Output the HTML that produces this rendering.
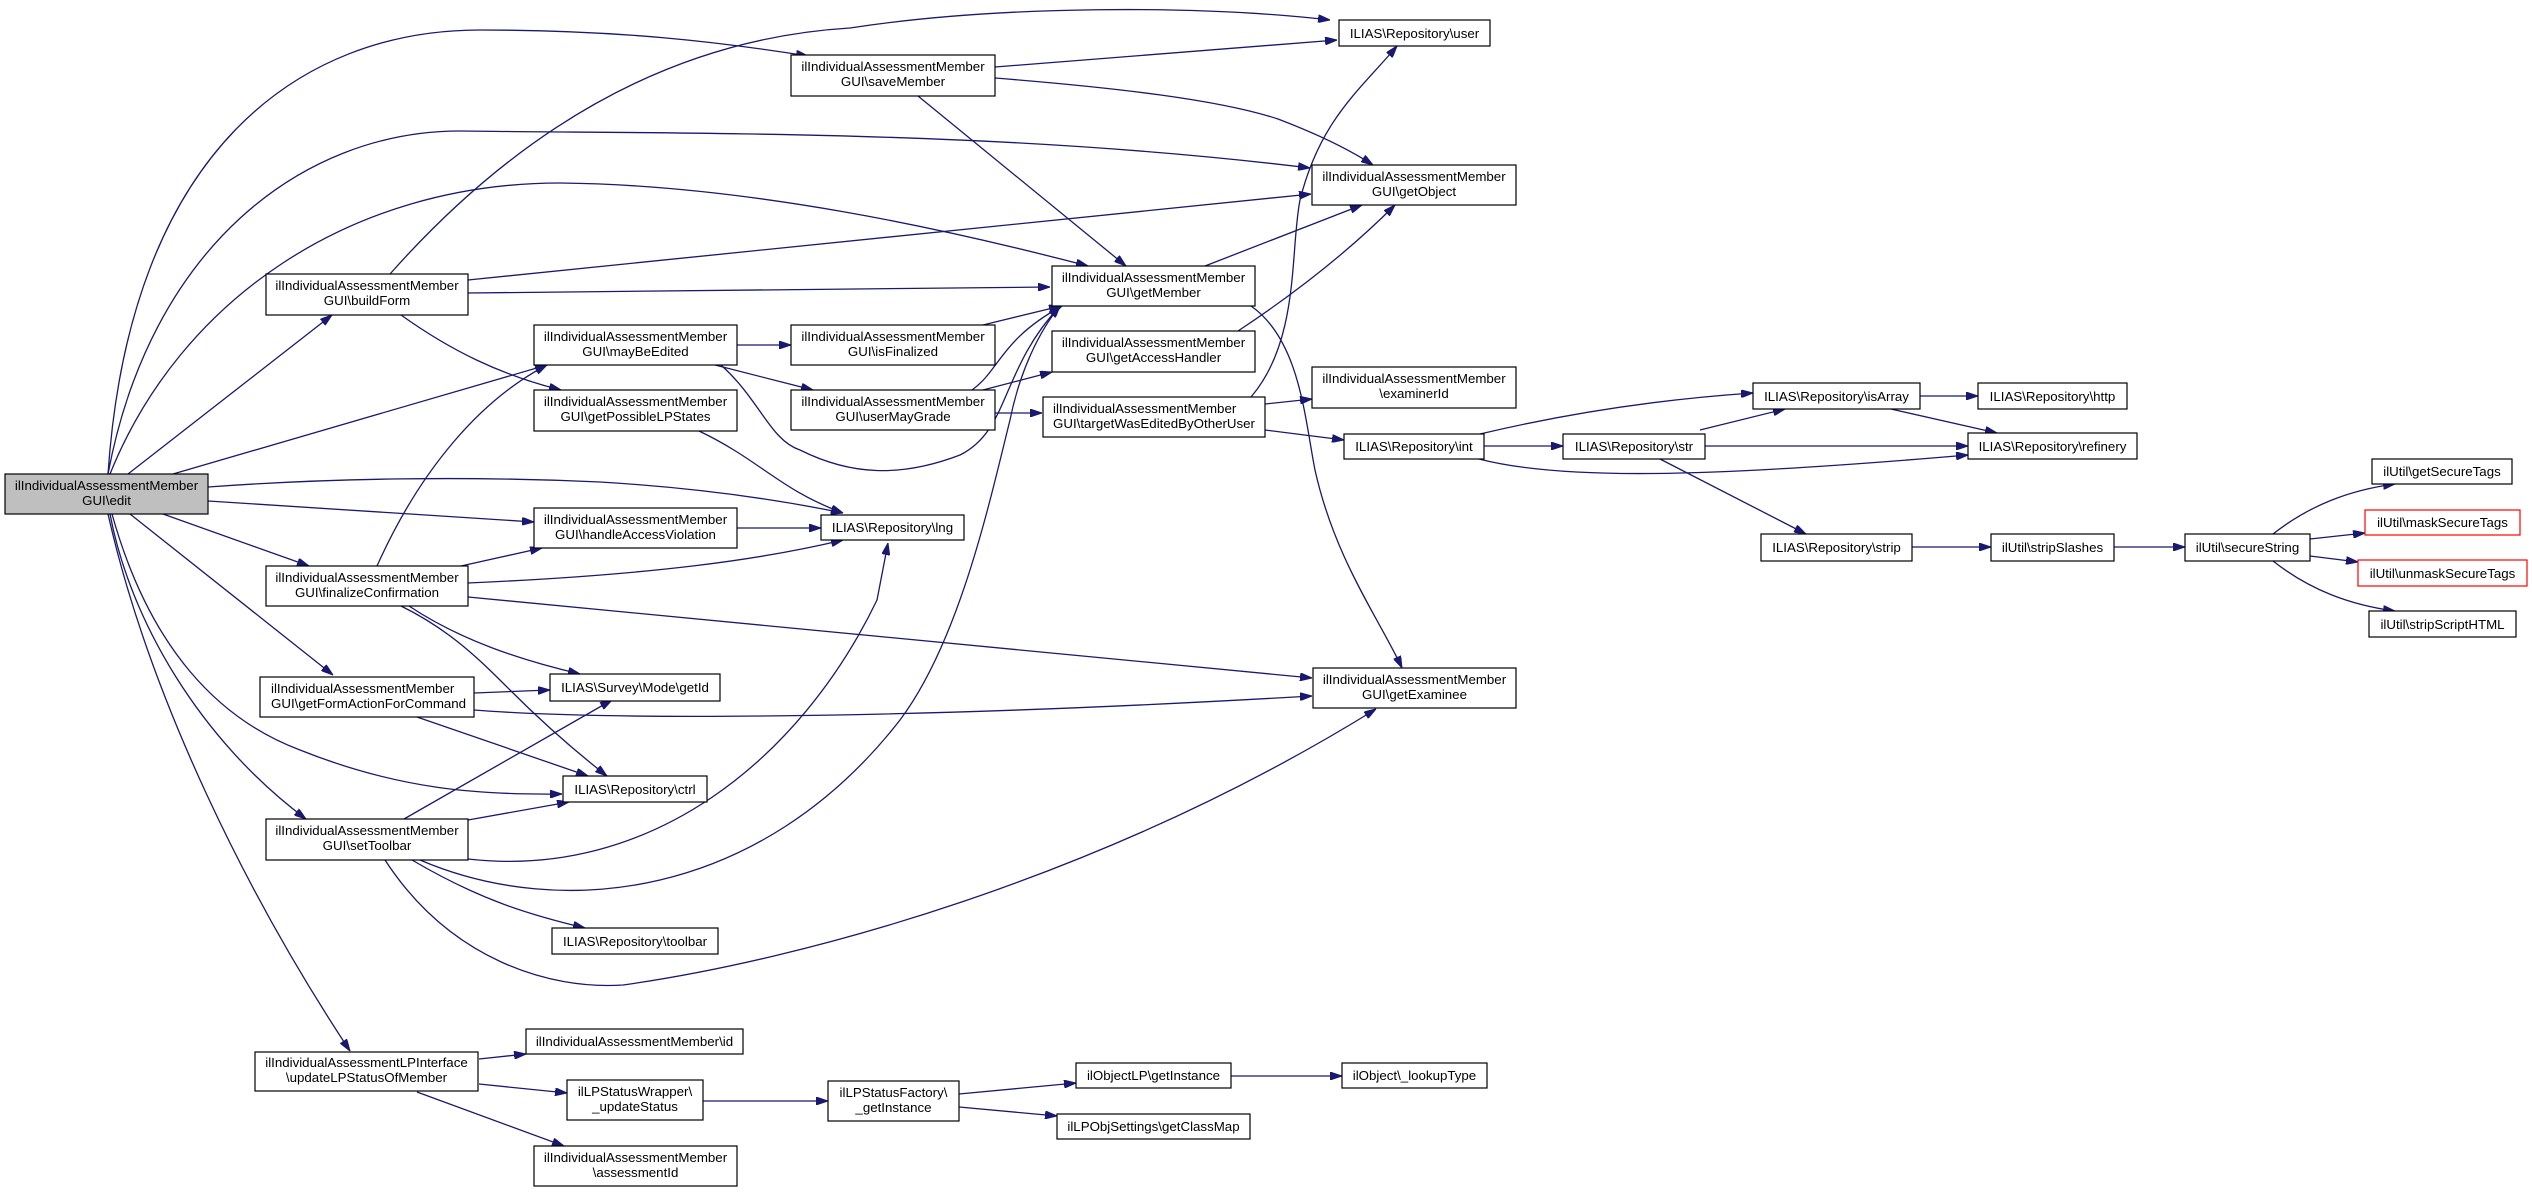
<!DOCTYPE html>
<html><head><meta charset="utf-8"><style>
html,body{margin:0;padding:0;background:#fff;}
svg{display:block;}
text{font-family:"Liberation Sans",Arial,sans-serif;font-size:13.3px;fill:#000;}
.n{fill:#fff;stroke:#000;stroke-width:1.2;}
.e{fill:none;stroke:#191970;stroke-width:1.3;}
</style></head><body>
<svg width="2532" height="1192" viewBox="0 0 2532 1192" xmlns="http://www.w3.org/2000/svg">
<defs>
<marker id="a" viewBox="0 0 12 8" refX="12" refY="4" markerWidth="12" markerHeight="8" markerUnits="userSpaceOnUse" orient="auto">
<path d="M0,0 L12,4 L0,8 z" fill="#191970" stroke="#191970"/>
</marker>
</defs>
<g class="e" marker-end="url(#a)">
<!-- edit -->
<path d="M108,474 C130,150 300,30 480,30 C620,30 720,42 808,56"/>
<path d="M108,474 C150,250 300,131 460,131 C700,134 1000,130 1310,168"/>
<path d="M110,474 C180,300 350,183 560,183 C750,185 950,230 1088,266"/>
<path d="M128,474 L332,315"/>
<path d="M173,474 L547,365"/>
<path d="M208,487 C330,478 470,476 600,482 C700,488 780,500 843,513"/>
<path d="M208,501 L534,522"/>
<path d="M163,514 L309,566"/>
<path d="M130,514 L333,675"/>
<path d="M112,514 C150,650 220,720 300,750 C400,790 480,795 562,794"/>
<path d="M110,514 C130,620 200,740 306,819"/>
<path d="M108,514 C150,700 250,900 350,1051"/>
<!-- buildForm -->
<path d="M390,274 C500,150 650,40 850,28 C1000,5 1200,5 1330,20"/>
<path d="M468,280 L1311,194"/>
<path d="M468,293 L1050,287"/>
<path d="M401,315 C450,350 500,375 561,390"/>
<!-- saveMember -->
<path d="M995,67 L1337,40"/>
<path d="M995,78 C1120,88 1220,100 1278,119 C1320,135 1350,150 1373,165"/>
<path d="M918,96 L1126,266"/>
<!-- mayBeEdited -->
<path d="M737,345 L791,345"/>
<path d="M715,365 L813,390"/>
<path d="M721,365 C760,400 770,440 800,450 C850,475 900,478 960,455 C1010,430 1000,370 1060,306"/>
<path d="M983,325 L1061,306"/>
<path d="M972,390 C1000,370 1000,340 1062,306"/>
<path d="M983,390 L1052,372"/>
<path d="M995,413 L1042,413"/>
<path d="M699,431 C760,460 780,490 843,513"/>
<path d="M737,528 L821,528"/>
<!-- finalizeConfirmation -->
<path d="M377,566 C420,470 480,400 547,365"/>
<path d="M461,566 L542,548"/>
<path d="M468,583 C650,575 760,560 843,540"/>
<path d="M468,597 L1312,678"/>
<path d="M409,606 C460,640 520,660 580,674"/>
<path d="M401,606 C450,630 480,660 510,690 C550,730 580,755 607,776"/>
<!-- setToolbar -->
<path d="M468,859 C650,880 800,760 877,600 L888,543"/>
<path d="M420,860 C560,920 760,900 900,720 C960,640 990,500 1010,420 C1020,370 1040,330 1060,306"/>
<path d="M385,860 C450,960 550,990 623,985 C800,960 1100,880 1376,709"/>
<path d="M404,819 L612,700"/>
<path d="M468,820 L569,802"/>
<path d="M412,860 C480,900 530,915 585,928"/>
<!-- getFormActionForCommand -->
<path d="M474,693 L550,690"/>
<path d="M417,717 L588,776"/>
<path d="M474,710 C600,720 900,720 1312,696"/>
<!-- getMember etc -->
<path d="M1205,266 L1362,205"/>
<path d="M1251,306 C1300,340 1305,420 1315,470 C1335,560 1380,620 1402,668"/>
<path d="M1238,331 C1300,290 1350,250 1395,205"/>
<path d="M1251,397 C1300,340 1290,250 1300,200 C1320,120 1360,90 1397,46"/>
<path d="M1265,404 L1312,399"/>
<path d="M1265,430 L1344,440"/>
<!-- int / str -->
<path d="M1480,434 C1560,415 1650,400 1753,393"/>
<path d="M1484,446 L1563,446"/>
<path d="M1479,459 C1560,480 1700,478 1968,455"/>
<path d="M1700,430 L1785,409"/>
<path d="M1705,446 L1968,446"/>
<path d="M1660,459 L1806,534"/>
<path d="M1920,396 L1978,396"/>
<path d="M1891,409 L1997,433"/>
<path d="M1912,547 L1991,547"/>
<path d="M2114,547 L2185,547"/>
<path d="M2273,534 C2310,505 2350,490 2395,484"/>
<path d="M2310,539 L2365,533"/>
<path d="M2310,556 L2358,562"/>
<path d="M2273,561 C2310,590 2350,605 2395,611"/>
<!-- updateLP -->
<path d="M479,1059 L526,1054"/>
<path d="M479,1084 L567,1093"/>
<path d="M417,1092 L564,1146"/>
<path d="M703,1101 L828,1101"/>
<path d="M959,1094 L1076,1083"/>
<path d="M959,1107 L1057,1116"/>
<path d="M1231,1076 L1342,1076"/>
</g>

<!-- nodes -->
<rect x="5" y="474" width="203" height="40" fill="#bfbfbf" stroke="#000" stroke-width="1.2"/>
<text x="106.5" y="490" text-anchor="middle">ilIndividualAssessmentMember</text><text x="106.5" y="505" text-anchor="middle">GUI\edit</text>

<g>
<rect class="n" x="791" y="55" width="204" height="41"/>
<text x="893" y="71" text-anchor="middle">ilIndividualAssessmentMember</text><text x="893" y="86" text-anchor="middle">GUI\saveMember</text>
<rect class="n" x="1339" y="20" width="151" height="26"/>
<text x="1414.5" y="38" text-anchor="middle">ILIAS\Repository\user</text>
<rect class="n" x="1312" y="165" width="204" height="40"/>
<text x="1414" y="181" text-anchor="middle">ilIndividualAssessmentMember</text><text x="1414" y="196" text-anchor="middle">GUI\getObject</text>
<rect class="n" x="266" y="274" width="202" height="41"/>
<text x="367" y="290" text-anchor="middle">ilIndividualAssessmentMember</text><text x="367" y="305" text-anchor="middle">GUI\buildForm</text>
<rect class="n" x="1052" y="266" width="203" height="40"/>
<text x="1153.5" y="282" text-anchor="middle">ilIndividualAssessmentMember</text><text x="1153.5" y="297" text-anchor="middle">GUI\getMember</text>
<rect class="n" x="534" y="325" width="203" height="40"/>
<text x="635.5" y="341" text-anchor="middle">ilIndividualAssessmentMember</text><text x="635.5" y="356" text-anchor="middle">GUI\mayBeEdited</text>
<rect class="n" x="791" y="325" width="204" height="40"/>
<text x="893" y="341" text-anchor="middle">ilIndividualAssessmentMember</text><text x="893" y="356" text-anchor="middle">GUI\isFinalized</text>
<rect class="n" x="1052" y="331" width="203" height="41"/>
<text x="1153.5" y="347" text-anchor="middle">ilIndividualAssessmentMember</text><text x="1153.5" y="362" text-anchor="middle">GUI\getAccessHandler</text>
<rect class="n" x="534" y="390" width="203" height="41"/>
<text x="635.5" y="406" text-anchor="middle">ilIndividualAssessmentMember</text><text x="635.5" y="421" text-anchor="middle">GUI\getPossibleLPStates</text>
<rect class="n" x="791" y="390" width="204" height="40"/>
<text x="893" y="406" text-anchor="middle">ilIndividualAssessmentMember</text><text x="893" y="421" text-anchor="middle">GUI\userMayGrade</text>
<rect class="n" x="1043" y="397" width="222" height="40"/>
<text x="1053" y="413">ilIndividualAssessmentMember</text><text x="1053" y="428">GUI\targetWasEditedByOtherUser</text>
<rect class="n" x="1312" y="367" width="204" height="41"/>
<text x="1414" y="383" text-anchor="middle">ilIndividualAssessmentMember</text><text x="1414" y="398" text-anchor="middle">\examinerId</text>
<rect class="n" x="1344" y="434" width="140" height="25"/>
<text x="1414" y="451" text-anchor="middle">ILIAS\Repository\int</text>
<rect class="n" x="1563" y="434" width="142" height="25"/>
<text x="1634" y="451" text-anchor="middle">ILIAS\Repository\str</text>
<rect class="n" x="1753" y="383" width="167" height="26"/>
<text x="1836.5" y="401" text-anchor="middle">ILIAS\Repository\isArray</text>
<rect class="n" x="1978" y="383" width="149" height="26"/>
<text x="2052.5" y="401" text-anchor="middle">ILIAS\Repository\http</text>
<rect class="n" x="1968" y="433" width="169" height="26"/>
<text x="2052.5" y="451" text-anchor="middle">ILIAS\Repository\refinery</text>
<rect class="n" x="1761" y="534" width="151" height="27"/>
<text x="1836.5" y="552" text-anchor="middle">ILIAS\Repository\strip</text>
<rect class="n" x="1991" y="534" width="123" height="27"/>
<text x="2052.5" y="552" text-anchor="middle">ilUtil\stripSlashes</text>
<rect class="n" x="2185" y="534" width="125" height="27"/>
<text x="2247.5" y="552" text-anchor="middle">ilUtil\secureString</text>
<rect class="n" x="2372" y="459" width="140" height="25"/>
<text x="2442" y="476" text-anchor="middle">ilUtil\getSecureTags</text>
<rect x="2365" y="510" width="155" height="25" fill="#fff" stroke="#ff0000" stroke-width="1.2"/>
<text x="2442.5" y="527" text-anchor="middle">ilUtil\maskSecureTags</text>
<rect x="2358" y="560" width="169" height="26" fill="#fff" stroke="#ff0000" stroke-width="1.2"/>
<text x="2442.5" y="578" text-anchor="middle">ilUtil\unmaskSecureTags</text>
<rect class="n" x="2369" y="611" width="147" height="26"/>
<text x="2442.5" y="629" text-anchor="middle">ilUtil\stripScriptHTML</text>
<rect class="n" x="821" y="515" width="143" height="25"/>
<text x="892.5" y="532" text-anchor="middle">ILIAS\Repository\lng</text>
<rect class="n" x="534" y="508" width="203" height="40"/>
<text x="635.5" y="524" text-anchor="middle">ilIndividualAssessmentMember</text><text x="635.5" y="539" text-anchor="middle">GUI\handleAccessViolation</text>
<rect class="n" x="266" y="566" width="202" height="40"/>
<text x="367" y="582" text-anchor="middle">ilIndividualAssessmentMember</text><text x="367" y="597" text-anchor="middle">GUI\finalizeConfirmation</text>
<rect class="n" x="550" y="674" width="170" height="27"/>
<text x="635" y="692" text-anchor="middle">ILIAS\Survey\Mode\getId</text>
<rect class="n" x="1313" y="668" width="203" height="40"/>
<text x="1414.5" y="684" text-anchor="middle">ilIndividualAssessmentMember</text><text x="1414.5" y="699" text-anchor="middle">GUI\getExaminee</text>
<rect class="n" x="260" y="677" width="214" height="40"/>
<text x="271" y="693">ilIndividualAssessmentMember</text><text x="271" y="708">GUI\getFormActionForCommand</text>
<rect class="n" x="563" y="776" width="144" height="26"/>
<text x="635" y="794" text-anchor="middle">ILIAS\Repository\ctrl</text>
<rect class="n" x="266" y="819" width="202" height="41"/>
<text x="367" y="835" text-anchor="middle">ilIndividualAssessmentMember</text><text x="367" y="850" text-anchor="middle">GUI\setToolbar</text>
<rect class="n" x="552" y="928" width="166" height="26"/>
<text x="635" y="946" text-anchor="middle">ILIAS\Repository\toolbar</text>
<rect class="n" x="255" y="1052" width="223" height="39"/>
<text x="366.5" y="1067" text-anchor="middle">ilIndividualAssessmentLPInterface</text><text x="366.5" y="1082" text-anchor="middle">\updateLPStatusOfMember</text>
<rect class="n" x="526" y="1029" width="217" height="25"/>
<text x="634.5" y="1046" text-anchor="middle">ilIndividualAssessmentMember\id</text>
<rect class="n" x="567" y="1080" width="136" height="40"/>
<text x="635" y="1096" text-anchor="middle">ilLPStatusWrapper\</text><text x="635" y="1111" text-anchor="middle">_updateStatus</text>
<rect class="n" x="534" y="1146" width="203" height="40"/>
<text x="635.5" y="1162" text-anchor="middle">ilIndividualAssessmentMember</text><text x="635.5" y="1177" text-anchor="middle">\assessmentId</text>
<rect class="n" x="828" y="1081" width="131" height="40"/>
<text x="893.5" y="1097" text-anchor="middle">ilLPStatusFactory\</text><text x="893.5" y="1112" text-anchor="middle">_getInstance</text>
<rect class="n" x="1076" y="1063" width="155" height="25"/>
<text x="1153.5" y="1080" text-anchor="middle">ilObjectLP\getInstance</text>
<rect class="n" x="1342" y="1063" width="145" height="25"/>
<text x="1414.5" y="1080" text-anchor="middle">ilObject\_lookupType</text>
<rect class="n" x="1057" y="1114" width="193" height="25"/>
<text x="1153.5" y="1131" text-anchor="middle">ilLPObjSettings\getClassMap</text>
</g>
</svg>
</body></html>
